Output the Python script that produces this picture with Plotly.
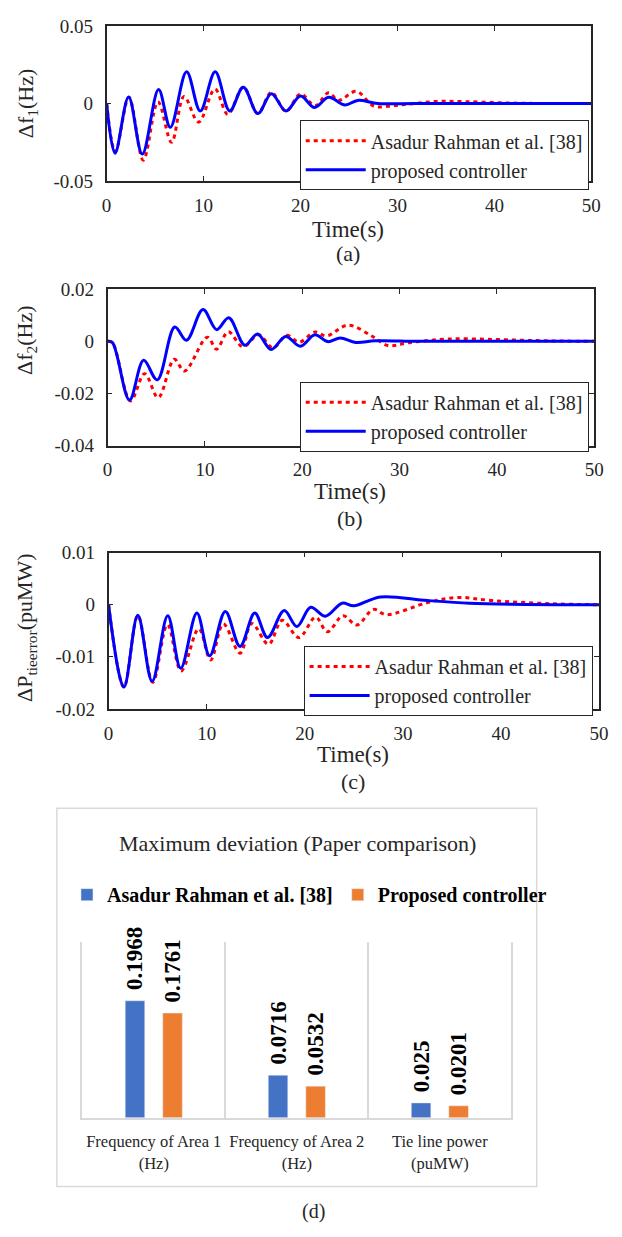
import plotly.graph_objects as go

# ---------------- data ----------------
# Panel (a): frequency deviation of area 1
ta_ref = [0, 0.9, 2.3, 3.78, 5.3, 6.7, 7.98, 9.49, 11.17, 12.5, 14.1, 15.6, 17.0, 18.5, 20.0, 21.5, 22.9, 23.9, 25.75, 27.6, 29.5, 31.0, 34.0, 37.0, 41.0, 45.0, 50.0]
fa_ref = [0, -0.031, 0.004, -0.0365, 0.001, -0.025, 0.0045, -0.012, 0.0093, -0.007, 0.0105, -0.0065, 0.0072, -0.005, 0.0062, -0.0015, 0.007, 0.002, 0.0078, -0.0017, -0.0014, -0.0005, 0.0013, 0.0012, 0.0004, 0.0, 0.0]
ta_pro = [0, 0.87, 2.27, 3.68, 5.36, 6.57, 8.25, 9.66, 11.2, 12.7, 14.1, 15.6, 17.0, 18.5, 20.0, 21.45, 22.9, 24.6, 25.9, 28.0, 32.0, 40.0, 50.0]
fa_pro = [0, -0.032, 0.0042, -0.0326, 0.009, -0.0153, 0.0204, -0.0048, 0.0204, -0.0048, 0.0105, -0.0065, 0.0063, -0.0048, 0.0048, -0.0026, 0.004, -0.001, 0.002, 0.0, 0.0, 0.0, 0.0]

# Panel (b): frequency deviation of area 2
tb_ref = [0, 0.5, 2.35, 3.8, 5.2, 6.85, 7.9, 10.25, 11.2, 12.4, 13.9, 15.5, 17.0, 18.4, 19.7, 21.3, 22.5, 24.7, 27.2, 28.8, 31.0, 35.0, 40.0, 45.0, 50.0]
fb_ref = [0, -0.0005, -0.0229, -0.0124, -0.0216, -0.0069, -0.0114, 0.0016, -0.003, 0.0037, -0.0021, 0.0025, -0.0025, 0.0023, -0.0003, 0.0036, 0.0021, 0.0062, 0.0019, -0.0016, -0.0005, 0.0009, 0.0007, 0.0002, 0.0]
tb_pro = [0, 0.5, 2.25, 3.7, 5.1, 6.9, 8.1, 9.8, 11.2, 12.45, 14.1, 15.4, 16.8, 18.3, 19.8, 21.3, 22.6, 23.9, 25.5, 27.5, 32.0, 40.0, 50.0]
fb_pro = [0, -0.0005, -0.0225, -0.0073, -0.0148, 0.0055, 0.0004, 0.0122, 0.0045, 0.0091, -0.0015, 0.0028, -0.0031, 0.0019, -0.0019, 0.0025, -0.0001, 0.0013, -0.0004, 0.0002, 0.0, 0.0, 0.0]

# Panel (c): tie-line power error
tc_ref = [0, 1.56, 2.98, 4.5, 6.0, 7.4, 9.2, 10.4, 11.7, 13.4, 14.6, 16.3, 17.7, 19.4, 21.1, 22.3, 23.9, 25.3, 27.0, 28.3, 32.5, 35.5, 39.1, 45.0, 50.0]
pc_ref = [0, -0.0158, -0.0021, -0.0149, -0.0038, -0.0127, -0.0046, -0.0106, -0.0037, -0.0093, -0.0036, -0.0076, -0.003, -0.0063, -0.0024, -0.0052, -0.0021, -0.0039, -0.0009, -0.0019, 0.0004, 0.0014, 0.0008, 0.0002, 0.0]
tc_pro = [0, 1.56, 2.98, 4.44, 6.03, 7.35, 9.0, 10.3, 11.9, 13.4, 14.9, 16.2, 17.9, 19.2, 20.6, 22.1, 23.8, 25.0, 27.7, 32.5, 36.8, 41.0, 50.0]
pc_pro = [0, -0.0158, -0.002, -0.0147, -0.0021, -0.0122, -0.0016, -0.0098, -0.0013, -0.008, -0.0016, -0.0063, -0.0011, -0.0042, -0.0005, -0.0022, 0.0003, -0.0002, 0.0015, 0.0008, 0.0003, 0.0001, 0.0]

# Panel (d): maximum deviation bar chart
bar_categories = ["Frequency of Area 1<br>(Hz)", "Frequency of Area 2<br>(Hz)", "Tie line power<br>(puMW)"]
bar_ref = [0.1968, 0.0716, 0.025]
bar_pro = [0.1761, 0.0532, 0.0201]
bar_ref_text = ["0.1968", "0.0716", "0.025"]
bar_pro_text = ["0.1761", "0.0532", "0.0201"]

x_ticks = [0, 10, 20, 30, 40, 50]
x_ticktext = ["0", "10", "20", "30", "40", "50"]
ya_ticks = [-0.05, 0, 0.05]
ya_text = ["-0.05", "0", "0.05"]
yb_ticks = [-0.04, -0.02, 0, 0.02]
yb_text = ["-0.04", "-0.02", "0", "0.02"]
yc_ticks = [-0.02, -0.01, 0, 0.01]
yc_text = ["-0.02", "-0.01", "0", "0.01"]

name_ref = "Asadur Rahman et al. [38]"
name_pro = "proposed controller"

# ---------------- styling ----------------
PAGE_MARGIN = 8          # default body margin of the html page
W, H = 622 - 2 * PAGE_MARGIN, 1237 - 2 * PAGE_MARGIN
SERIF = "Liberation Serif"
TXT = "#262626"
RED = "#FF0000"
BLUE = "#0000FF"
ORANGE = "#ED7D31"
XBLUE = "#4472C4"
LGRAY = "#D9D9D9"


def px(xp):
    return (xp - PAGE_MARGIN) / W


def py(yp):
    return 1 - (yp - PAGE_MARGIN) / H


fig = go.Figure()

panels = [
    (ta_ref, fa_ref, ta_pro, fa_pro, "x", "y", "legend"),
    (tb_ref, fb_ref, tb_pro, fb_pro, "x2", "y2", "legend2"),
    (tc_ref, pc_ref, tc_pro, pc_pro, "x3", "y3", "legend3"),
]
for tr, vr, tp, vp, xa, ya, lg in panels:
    fig.add_trace(go.Scatter(x=tr, y=vr, mode="lines", name=name_ref, xaxis=xa, yaxis=ya,
                             legend=lg, line=dict(color=RED, width=3, dash="4px,4px",
                                                  shape="spline", smoothing=1.0)))
    fig.add_trace(go.Scatter(x=tp, y=vp, mode="lines", name=name_pro, xaxis=xa, yaxis=ya,
                             legend=lg, line=dict(color=BLUE, width=3,
                                                  shape="spline", smoothing=1.0)))

bar_textfont = dict(family=SERIF, size=23, color="#000000", weight="bold")
fig.add_trace(go.Bar(x=bar_categories, y=bar_ref, name="Asadur Rahman et al. [38]",
                     marker_color=XBLUE, text=bar_ref_text, texttemplate="\u00a0\u200a%{text}",
                     textposition="outside", textangle=-90, cliponaxis=False,
                     constraintext="none", textfont=bar_textfont,
                     xaxis="x4", yaxis="y4", legend="legend4"))
fig.add_trace(go.Bar(x=bar_categories, y=bar_pro, name="Proposed controller",
                     marker_color=ORANGE, text=bar_pro_text, texttemplate="\u00a0\u200a%{text}",
                     textposition="outside", textangle=-90, cliponaxis=False,
                     constraintext="none", textfont=bar_textfont,
                     xaxis="x4", yaxis="y4", legend="legend4"))

line_axis = dict(showgrid=False, zeroline=False, showline=True, mirror="ticks",
                 linecolor=TXT, linewidth=1.6, ticks="inside", ticklen=5, tickwidth=1.3,
                 tickcolor=TXT, tickfont=dict(family=SERIF, size=19, color=TXT))

xa_common = dict(line_axis, range=[0, 50], tickvals=x_ticks, ticktext=x_ticktext,
                 ticklabelstandoff=6)
ya_common = dict(line_axis, ticklabelstandoff=8)

fig.update_layout(
    xaxis=dict(xa_common, domain=[px(104), px(601)], anchor="y"),
    yaxis=dict(ya_common, domain=[py(174), py(16)], anchor="x", range=[-0.05, 0.05],
               tickvals=ya_ticks, ticktext=ya_text),
    xaxis2=dict(xa_common, domain=[px(105), px(604)], anchor="y2"),
    yaxis2=dict(ya_common, domain=[py(443), py(284)], anchor="x2", range=[-0.04, 0.02],
                tickvals=yb_ticks, ticktext=yb_text),
    xaxis3=dict(xa_common, domain=[px(106), px(609)], anchor="y3"),
    yaxis3=dict(ya_common, domain=[py(711), py(552)], anchor="x3", range=[-0.02, 0.01],
                tickvals=yc_ticks, ticktext=yc_text),
    xaxis4=dict(domain=[px(79), px(519)], anchor="y4", type="category",
                tickson="boundaries", showgrid=True, gridcolor=LGRAY, gridwidth=1.5,
                showline=True, linecolor=LGRAY, linewidth=1.5, ticks="", zeroline=False,
                tickangle=0, tickfont=dict(family=SERIF, size=16.5, color=TXT),
                ticklabelstandoff=8),
    yaxis4=dict(domain=[py(1127), py(948)], anchor="x4", range=[0, 0.296],
                showticklabels=False, showgrid=False, zeroline=False, showline=True,
                mirror=True, linecolor=LGRAY, linewidth=1.5, ticks=""),
    barmode="group", bargap=0.475, bargroupgap=0.48,
)

leg_common = dict(xanchor="left", yanchor="top", bgcolor="white", bordercolor=TXT,
                  borderwidth=1, font=dict(family=SERIF, size=20, color=TXT),
                  tracegroupgap=0, itemwidth=60)
fig.update_layout(
    legend=dict(leg_common, x=px(302), y=py(112)),
    legend2=dict(leg_common, x=px(302), y=py(378)),
    legend3=dict(leg_common, x=px(306), y=py(647)),
    legend4=dict(orientation="h", xanchor="center", yanchor="middle", x=px(312), y=py(900),
                 bgcolor="rgba(0,0,0,0)", borderwidth=0, itemwidth=30,
                 font=dict(family=SERIF, size=20, color="#000000", weight="bold")),
)

annotations = [
    dict(text="Time(s)", x=352, y=223, size=23),
    dict(text="(a)", x=352, y=248, size=22),
    dict(text="Time(s)", x=354, y=490, size=23),
    dict(text="(b)", x=354, y=517, size=22),
    dict(text="Time(s)", x=357, y=757, size=23),
    dict(text="(c)", x=357, y=785, size=22),
    dict(text="(d)", x=316, y=1222, size=20),
    dict(text="Maximum deviation (Paper comparison)", x=300, y=848, size=22),
]
for a in annotations:
    fig.add_annotation(text=a["text"], x=px(a["x"]), y=py(a["y"]), xref="paper", yref="paper",
                       showarrow=False, xanchor="center", yanchor="middle",
                       font=dict(family=SERIF, size=a["size"], color=TXT))

ylabels = [
    ("Δf<sub>1</sub>(Hz)", 22, 95),
    ("Δf<sub>2</sub>(Hz)", 22, 336),
    ("ΔP<sub>tieerror</sub>(puMW)", 22, 628),
]
for txt, xx, yy in ylabels:
    fig.add_annotation(text=txt, x=px(xx), y=py(yy), xref="paper", yref="paper",
                       showarrow=False, textangle=-90, xanchor="center", yanchor="middle",
                       font=dict(family=SERIF, size=22, color=TXT))

fig.add_shape(type="rect", xref="paper", yref="paper", x0=px(53), x1=px(545),
              y0=py(1197), y1=py(812), line=dict(color=LGRAY, width=1.5))

fig.update_layout(width=W, height=H, autosize=False, margin=dict(l=0, r=0, t=0, b=0),
                  paper_bgcolor="white", plot_bgcolor="white", showlegend=True)

fig.write_html("out.html")
